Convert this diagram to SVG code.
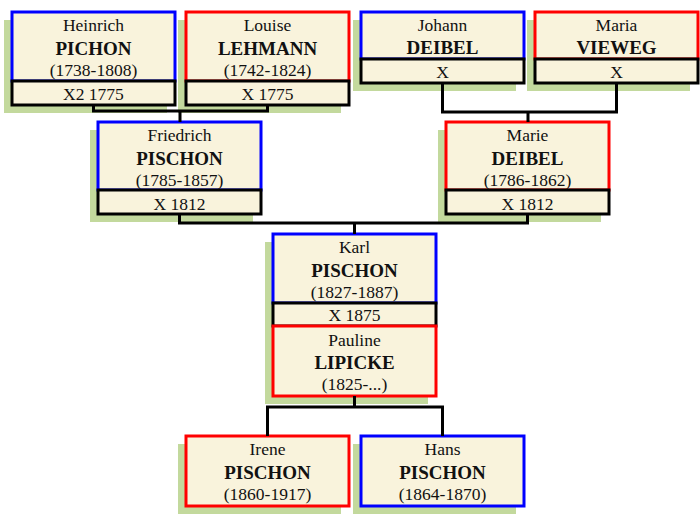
<svg xmlns="http://www.w3.org/2000/svg" width="700" height="520" viewBox="0 0 700 520">
<style>
.sh{fill:#C3D99D}
.bx{fill:#F9F3DC;stroke-width:3}
.m{stroke:#000}
.b{stroke:#0000FF}
.r{stroke:#FF0000}
text{font-family:"Liberation Serif","Times New Roman",serif;text-anchor:middle;fill:#111}
.n{font-size:17.5px}
.s{font-size:19px;font-weight:bold}
.c{fill:none;stroke:#000;stroke-width:3}
</style>
<rect width="700" height="520" fill="#fff"/>
<g id="heinrich">
<rect class="sh" x="4" y="20" width="163" height="93"/>
<rect class="bx b" x="12" y="12" width="163" height="69"/>
<rect class="bx m" x="12" y="81" width="163" height="24"/>
<text class="n" x="93.5" y="31">Heinrich</text>
<text class="s" x="93.5" y="55">PICHON</text>
<text class="n" x="93.5" y="76">(1738-1808)</text>
<text class="n" x="93.5" y="100">X2 1775</text>
</g>
<g id="louise">
<rect class="sh" x="178" y="20" width="163" height="93"/>
<rect class="bx r" x="186" y="12" width="163" height="69"/>
<rect class="bx m" x="186" y="81" width="163" height="24"/>
<text class="n" x="267.5" y="31">Louise</text>
<text class="s" x="267.5" y="55">LEHMANN</text>
<text class="n" x="267.5" y="76">(1742-1824)</text>
<text class="n" x="267.5" y="100">X 1775</text>
</g>
<g id="johann">
<rect class="sh" x="353" y="20" width="163" height="71"/>
<rect class="bx b" x="361" y="12" width="163" height="47"/>
<rect class="bx m" x="361" y="59" width="163" height="24"/>
<text class="n" x="442.5" y="31">Johann</text>
<text class="s" x="442.5" y="54">DEIBEL</text>
<text class="n" x="442.5" y="78">X</text>
</g>
<g id="maria">
<rect class="sh" x="527" y="20" width="163" height="71"/>
<rect class="bx r" x="535" y="12" width="163" height="47"/>
<rect class="bx m" x="535" y="59" width="163" height="24"/>
<text class="n" x="616.5" y="31">Maria</text>
<text class="s" x="616.5" y="54">VIEWEG</text>
<text class="n" x="616.5" y="78">X</text>
</g>
<g id="friedrich">
<rect class="sh" x="90" y="130" width="163" height="92"/>
<rect class="bx b" x="98" y="122" width="163" height="68"/>
<rect class="bx m" x="98" y="190" width="163" height="24"/>
<text class="n" x="179.5" y="141">Friedrich</text>
<text class="s" x="179.5" y="165">PISCHON</text>
<text class="n" x="179.5" y="186">(1785-1857)</text>
<text class="n" x="179.5" y="210">X 1812</text>
</g>
<g id="marie">
<rect class="sh" x="438" y="130" width="163" height="92"/>
<rect class="bx r" x="446" y="122" width="163" height="68"/>
<rect class="bx m" x="446" y="190" width="163" height="24"/>
<text class="n" x="527.5" y="141">Marie</text>
<text class="s" x="527.5" y="165">DEIBEL</text>
<text class="n" x="527.5" y="186">(1786-1862)</text>
<text class="n" x="527.5" y="210">X 1812</text>
</g>
<g id="karl">
<rect class="sh" x="265" y="242" width="163" height="162"/>
<rect class="bx b" x="273" y="234" width="163" height="69"/>
<rect class="bx m" x="273" y="303" width="163" height="23"/>
<text class="n" x="354.5" y="253">Karl</text>
<text class="s" x="354.5" y="277">PISCHON</text>
<text class="n" x="354.5" y="298">(1827-1887)</text>
<text class="n" x="354.5" y="321">X 1875</text>
</g>
<g id="pauline">
<rect class="bx r" x="273" y="326" width="163" height="70"/>
<text class="n" x="354.5" y="346">Pauline</text>
<text class="s" x="354.5" y="369">LIPICKE</text>
<text class="n" x="354.5" y="390">(1825-...)</text>
</g>
<g id="irene">
<rect class="sh" x="178" y="444" width="163" height="70"/>
<rect class="bx r" x="186" y="436" width="163" height="70"/>
<text class="n" x="267.5" y="455">Irene</text>
<text class="s" x="267.5" y="479">PISCHON</text>
<text class="n" x="267.5" y="500">(1860-1917)</text>
</g>
<g id="hans">
<rect class="sh" x="353" y="444" width="163" height="70"/>
<rect class="bx b" x="361" y="436" width="163" height="70"/>
<text class="n" x="442.5" y="455">Hans</text>
<text class="s" x="442.5" y="479">PISCHON</text>
<text class="n" x="442.5" y="500">(1864-1870)</text>
</g>
<g id="connectors">
<path class="c" d="M93.5 105V111H267.5V105M180 111V122"/>
<path class="c" d="M442.5 83V112H616.5V83M528 112V122"/>
<path class="c" d="M179.5 214V223H527.5V214M354.5 223V234"/>
<path class="c" d="M354.5 396V407M267.5 436V407H442.5V436"/>
</g>
</svg>
